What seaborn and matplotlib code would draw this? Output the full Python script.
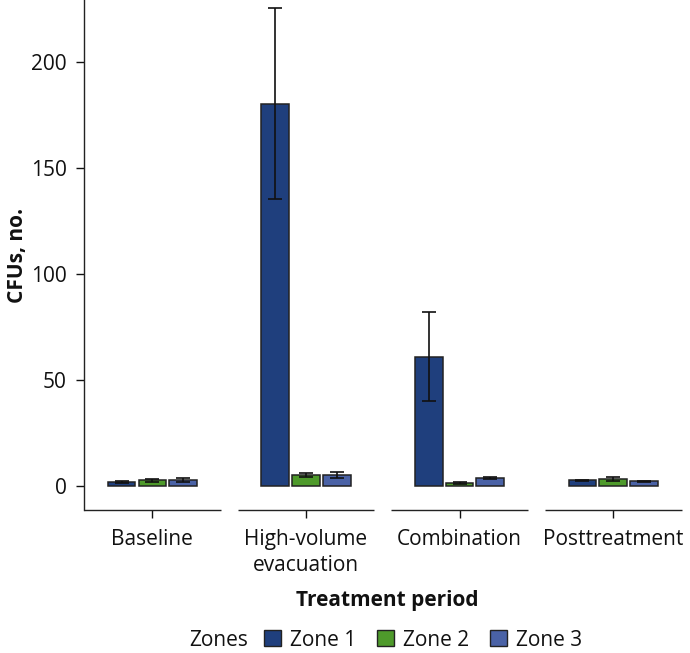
import matplotlib
matplotlib.use("Agg")
import matplotlib.pyplot as plt
import seaborn as sns
import pandas as pd
import numpy as np
from matplotlib.patches import Patch
import matplotlib.transforms as mtransforms

periods = ["Baseline", "High-volume\nevacuation", "Combination", "Posttreatment"]
zones = ["Zone 1", "Zone 2", "Zone 3"]
zone1 = [2.0, 180.5, 61.0, 2.7]
zone2 = [2.7, 5.2, 1.6, 3.4]
zone3 = [2.8, 5.3, 3.8, 2.2]
zone1_err = [0.4, 45.0, 21.0, 0.4]
zone2_err = [0.6, 0.8, 0.4, 0.9]
zone3_err = [0.8, 1.5, 0.6, 0.4]
colors = ["#1f3f7d", "#4e9a2b", "#4a62a6"]

sns.set_theme(style="ticks")
plt.rcParams['font.family'] = ['Open Sans', 'DejaVu Sans']

rows = []
for z, vals in zip(zones, [zone1, zone2, zone3]):
    for p, v in zip(periods, vals):
        rows.append({"period": p, "zone": z, "cfu": v})
df = pd.DataFrame(rows)
errs = [zone1_err, zone2_err, zone3_err]

fig = plt.figure(figsize=(6.9, 6.53), dpi=100)
ax = fig.add_axes([84/690, 143/653, 606/690, 510/653])

sns.barplot(data=df, x="period", y="cfu", hue="zone", order=periods, hue_order=zones,
            palette=colors, width=0.6, gap=0.1, errorbar=None, saturation=1,
            edgecolor="#222222", linewidth=1.1, ax=ax, legend=False)

for cont, e in zip(ax.containers, errs):
    xs = [b.get_x() + b.get_width()/2 for b in cont]
    hs = [b.get_height() for b in cont]
    ax.errorbar(xs, hs, yerr=e, fmt="none", ecolor="#111111", elinewidth=1.2,
                capsize=5, capthick=1.2, zorder=5)

ax.set_ylim(-11.3, 229.5)
ax.set_xlim(-0.445, 3.5)
ax.set_yticks([0, 50, 100, 150, 200])
ax.tick_params(axis="y", labelsize=15, length=6, width=1, colors="#111111", pad=6.5)
ax.tick_params(axis="x", labelsize=15, length=6, width=1, colors="#111111", pad=8)
for lab in ax.get_xticklabels() + ax.get_yticklabels():
    lab.set_color("#111111")
for lab in ax.get_xticklabels():
    lab.set_linespacing(1.3)

ax.spines["top"].set_visible(False)
ax.spines["right"].set_visible(False)
ax.spines["bottom"].set_visible(False)
ax.spines["left"].set_color("#222222")
ax.spines["left"].set_linewidth(1.0)

trans = mtransforms.blended_transform_factory(ax.transData, ax.transAxes)
for i in range(len(periods)):
    ax.plot([i - 0.445, i + 0.445], [0, 0], transform=trans, color="#222222",
            lw=1.0, clip_on=False, solid_capstyle="butt")

ax.set_ylabel("CFUs, no.", fontsize=15, fontweight="bold", color="#111111", labelpad=2)
ax.set_xlabel("Treatment period", fontsize=15, fontweight="bold", color="#111111", labelpad=10)

fig.text(189/690, 1 - 640/653, "Zones", fontsize=15, color="#111111", va="center", ha="left")
handles = [Patch(facecolor=c, edgecolor="#222222", linewidth=1.0) for c in colors]
fig.legend(handles, zones, loc="center left", bbox_to_anchor=(264/690, 1 - 640/653),
           ncol=3, frameon=False, fontsize=15, handlelength=0.8, handleheight=0.8,
           handletextpad=0.45, columnspacing=1.0, borderpad=0, borderaxespad=0,
           labelcolor="#111111")

fig.savefig("out.png", dpi=100)
